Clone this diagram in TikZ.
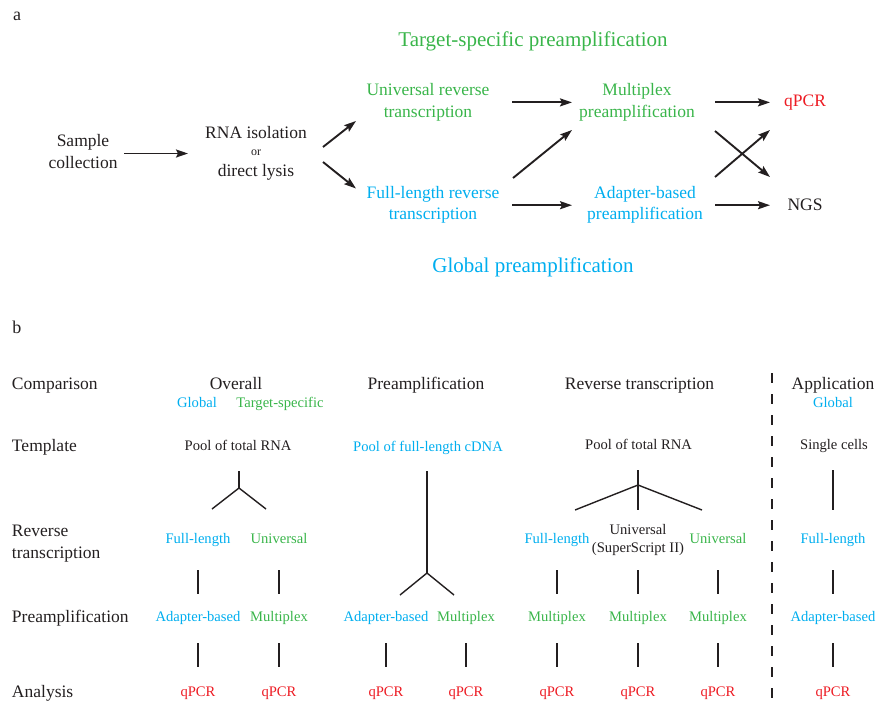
\documentclass[tikz,border=0pt]{standalone}
\usepackage{fontspec}
\setmainfont{Liberation Serif}
\usetikzlibrary{arrows.meta,calc}
\definecolor{tgreen}{RGB}{57,181,74}
\definecolor{tblue}{RGB}{0,174,239}
\definecolor{tred}{RGB}{237,28,36}
\definecolor{tblack}{RGB}{35,31,32}
\begin{document}
\begin{tikzpicture}[x=1pt,y=-1pt,
  every node/.style={inner sep=0pt, outer sep=0pt, text=tblack},
  big/.style={font=\fontsize{21}{25}\selectfont},
  mid/.style={font=\fontsize{17.5}{21.5}\selectfont, align=center},
  sm/.style={font=\fontsize{14.6}{18}\selectfont, align=center},
  gr/.style={text=tgreen}, bl/.style={text=tblue}, rd/.style={text=tred},
  arr/.style={draw=tblack, line width=1.9pt, -{Stealth[length=12pt,width=8pt,inset=2pt]}},
  tree/.style={draw=tblack, line width=1.4pt},
]
\useasboundingbox (0,0) rectangle (877,702);

% ---------- panel a ----------
\node[font=\fontsize{18}{20}\selectfont, anchor=base] (la) at (17,20) {a};
\node[big,gr,anchor=base] (tsp) at (533,46.5) {Target-specific preamplification};
\node[big,bl,anchor=base] (gpa) at (533,272) {Global preamplification};

\node[mid] (samp) at (83,151.5) {Sample\\collection};
\node[mid] (rna) at (256,153) {RNA isolation\\[-4.5pt]{\fontsize{12}{12}\selectfont or}\\[-0.5pt]direct lysis};
\node[mid,gr] (uni) at (428,102.4) {Universal reverse\\transcription};
\node[mid,bl] (full) at (433,204.9) {Full-length reverse\\transcription};
\node[mid,gr] (mpx) at (637,102.4) {Multiplex\\preamplification};
\node[mid,bl] (adp) at (645,204.9) {Adapter-based\\preamplification};
\node[mid,rd,anchor=base] (qpcr) at (805,106) {qPCR};
\node[mid,anchor=base] (ngs) at (805,210) {NGS};

\draw[arr] ([shift={(41,2)}]samp.center) -- ([shift={(-68,0.5)}]rna.center);
\draw[arr] ([shift={(67,-6)}]rna.center) -- ([shift={(-72,18.6)}]uni.center);
\draw[arr] ([shift={(67,9)}]rna.center) -- ([shift={(-77,-16.4)}]full.center);
\draw[arr] ([shift={(84,0)}]uni.center) -- ([shift={(-65,0)}]mpx.center);
\draw[arr] ([shift={(79,0.3)}]full.center) -- ([shift={(-73,0.3)}]adp.center);
\draw[arr] ([shift={(80,-26.9)}]full.center) -- ([shift={(-65,27.6)}]mpx.center);
\draw[arr] ([shift={(78,0)}]mpx.center) -- ([shift={(-35,-3.6)}]qpcr.base);
\draw[arr] ([shift={(70,0.3)}]adp.center) -- ([shift={(-35,-4.8)}]ngs.base);
\draw[arr] ([shift={(78,28.6)}]mpx.center) -- ([shift={(-35,-33)}]ngs.base);
\draw[arr] ([shift={(70,-27.9)}]adp.center) -- ([shift={(-35,24)}]qpcr.base);

% ---------- panel b ----------
\node[font=\fontsize{18}{20}\selectfont, anchor=base] (lb) at (17,333) {b};

\node[mid,anchor=base west] (rc) at (12,389) {Comparison};
\node[mid,anchor=base west] (rt) at (12,451) {Template};
\node[mid,align=left,anchor=west] (rr) at (12,543.4) {Reverse\\transcription};
\node[mid,anchor=base west] (rp) at (12,622) {Preamplification};
\node[mid,anchor=base west] (ra) at (12,697) {Analysis};

\node[mid,anchor=base] (h1) at (236,389) {Overall};
\node[sm,bl,anchor=base] (h1g) at (197,407) {Global};
\node[sm,gr,anchor=base] (h1t) at (280,407) {Target-specific};
\node[mid,anchor=base] (h2) at (426,389) {Preamplification};
\node[mid,anchor=base] (h3) at (639.5,389) {Reverse transcription};
\node[mid,anchor=base] (h4) at (833,389) {Application};
\node[sm,bl,anchor=base] (h4g) at (833,407) {Global};

\node[sm,anchor=base] (p1) at (238,450) {Pool of total RNA};
\node[sm,bl,anchor=base] (p2) at (428,451) {Pool of full-length cDNA};
\node[sm,anchor=base] (p3) at (638.5,449) {Pool of total RNA};
\node[sm,anchor=base] (p4) at (834,449) {Single cells};

\node[sm,bl,anchor=base] (r1) at (198,543) {Full-length};
\node[sm,gr,anchor=base] (r2) at (279,543) {Universal};
\node[sm,bl,anchor=base] (r5) at (557,543) {Full-length};
\node[sm] (r6) at (638,539.5) {Universal\\(SuperScript II)};
\node[sm,gr,anchor=base] (r7) at (718,543) {Universal};
\node[sm,bl,anchor=base] (r8) at (833,543) {Full-length};

\node[sm,bl,anchor=base] (a1) at (198,621) {Adapter-based};
\node[sm,gr,anchor=base] (a2) at (279,621) {Multiplex};
\node[sm,bl,anchor=base] (a3) at (386,621) {Adapter-based};
\node[sm,gr,anchor=base] (a4) at (466,621) {Multiplex};
\node[sm,gr,anchor=base] (a5) at (557,621) {Multiplex};
\node[sm,gr,anchor=base] (a6) at (638,621) {Multiplex};
\node[sm,gr,anchor=base] (a7) at (718,621) {Multiplex};
\node[sm,bl,anchor=base] (a8) at (833,621) {Adapter-based};

\foreach \i/\xx in {1/198,2/279,3/386,4/466,5/557,6/638,7/718,8/833}{
  \node[sm,rd,anchor=base] (q\i) at (\xx,696) {qPCR};
}

% trees
\coordinate (j1) at (239,488);
\draw[tree] ([shift={(1,21)}]p1.base) -- (j1);
\draw[tree] ([shift={(14,-34)}]r1.base) -- (j1) -- ([shift={(-13,-34)}]r2.base);
\coordinate (j2) at (427,573);
\draw[tree] ([shift={(-1,20)}]p2.base) -- (j2);
\draw[tree] ([shift={(14,-26)}]a3.base) -- (j2) -- ([shift={(-12,-26)}]a4.base);
\coordinate (j3) at (638,485);
\draw[tree] ([shift={(-0.5,21)}]p3.base) -- (j3) -- ([shift={(0,-29.5)}]r6.center);
\draw[tree] ([shift={(18,-33)}]r5.base) -- (j3) -- ([shift={(-16,-33)}]r7.base);
\draw[tree] ([shift={(-1,21)}]p4.base) -- ([shift={(0,-33)}]r8.base);

\foreach \i in {1,2,5,7,8}{
  \draw[tree] ([shift={(0,27)}]r\i.base) -- ([shift={(0,-27)}]a\i.base);
}
\draw[tree] ([shift={(0,30.5)}]r6.center) -- ([shift={(0,-27)}]a6.base);
\foreach \i in {1,...,8}{
  \draw[tree] ([shift={(0,22)}]a\i.base) -- ([shift={(0,-29)}]q\i.base);
}

\draw[tblack, line width=1.6pt, dash pattern=on 10pt off 11pt] (772,373) -- (772,702);
\end{tikzpicture}
\end{document}
